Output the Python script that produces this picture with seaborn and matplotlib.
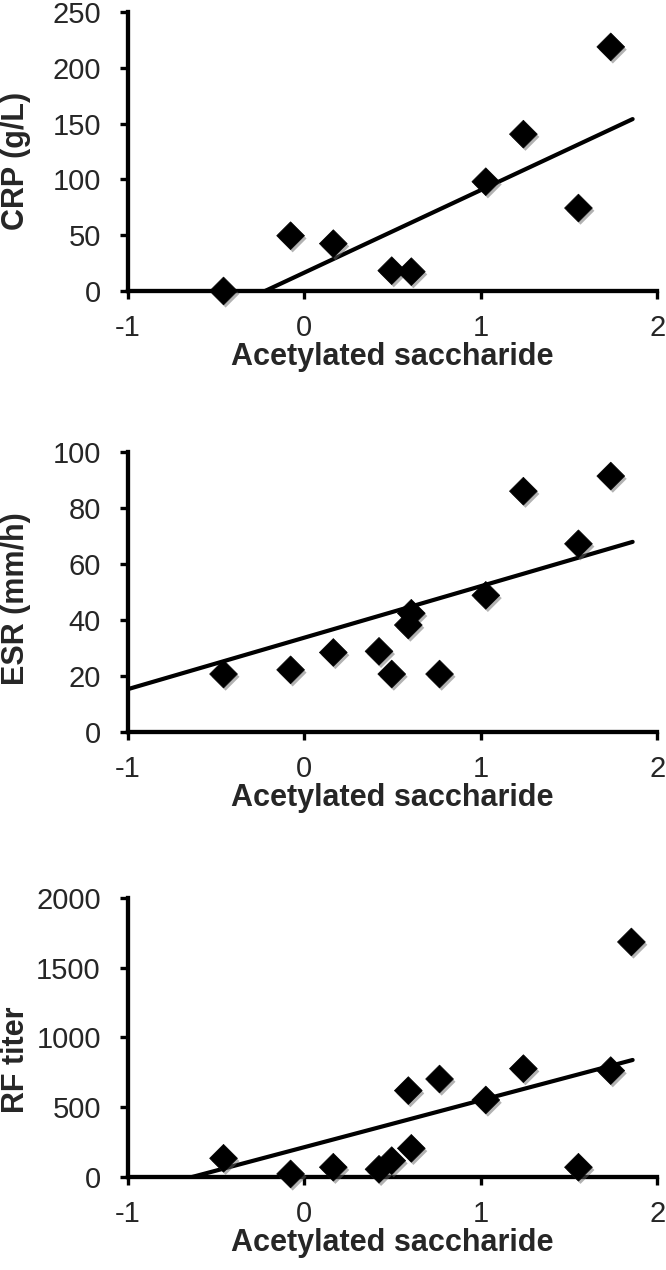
import seaborn as sns
import matplotlib.pyplot as plt
import matplotlib.patheffects as pe
import numpy as np
import pandas as pd

# Values
acetyl = [-0.458, -0.078, 0.164, 0.423, 0.495, 0.589, 0.606, 0.766, 1.028, 1.241, 1.553, 1.736, 1.853]
crp = [0, 49.5, 42.4, np.nan, 18.2, np.nan, 17.3, np.nan, 97.9, 140.5, 74.3, 218.7, np.nan]
esr = [20.8, 22.3, 28.5, 28.9, 20.8, 38.3, 42.5, 20.8, 48.9, 86.1, 67.3, 91.5, np.nan]
rf = [136, 24, 72, 57, 119, 620, 207, 703, 553, 777, 72, 763, 1683]

# Trend lines as drawn in the figure (y at the two x ends)
trend_x = [-1, 1.86]
crp_trend = [-57.5, 154]
esr_trend = [15.4, 68.0]
rf_trend = [-119.8, 839]

x_ticks = [-1, 0, 1, 2]
crp_ticks = [0, 50, 100, 150, 200, 250]
esr_ticks = [0, 20, 40, 60, 80, 100]
rf_ticks = [0, 500, 1000, 1500, 2000]

data = pd.DataFrame({'Acetylated saccharide': acetyl, 'CRP': crp, 'ESR': esr, 'RF': rf})

sns.set_style('ticks')
plt.rcParams['font.family'] = ['Liberation Sans', 'DejaVu Sans']
plt.rcParams['axes.unicode_minus'] = False

fig = plt.figure(figsize=(6.66, 12.7), dpi=100)

# column, y label, trend, y ticks, axes rect, y-label height (axes fraction)
panels = [
    ('CRP', 'CRP (g/L)', crp_trend, crp_ticks, [0.192, 0.7709, 0.795, 0.2197], 0.466),
    ('ESR', 'ESR (mm/h)', esr_trend, esr_ticks, [0.192, 0.4234, 0.795, 0.2205], 0.479),
    ('RF', 'RF titer', rf_trend, rf_ticks, [0.192, 0.0730, 0.795, 0.2202], 0.42),
]

shadow = [pe.SimplePatchShadow(offset=(1.5, -2), shadow_rgbFace='0.4', alpha=0.5), pe.Normal()]

for col, ylabel, trend, yticks, rect, ylab_y in panels:
    ax = fig.add_axes(rect)
    sns.lineplot(x=trend_x, y=trend, ax=ax, color='black', linewidth=3)
    sns.scatterplot(data=data, x='Acetylated saccharide', y=col, ax=ax, marker='D',
                    s=200, color='black', edgecolor='black', linewidth=0.5,
                    clip_on=False, zorder=3, path_effects=shadow)
    ax.set_xlim(x_ticks[0], x_ticks[-1])
    ax.set_ylim(yticks[0], yticks[-1])
    ax.set_xticks(x_ticks)
    ax.set_yticks(yticks)
    ax.set_xlabel('Acetylated saccharide', fontsize=22, fontweight='bold', labelpad=0)
    ax.set_ylabel(ylabel, fontsize=22, fontweight='bold')
    ax.yaxis.set_label_coords(-0.183, ylab_y)
    ax.tick_params(axis='both', labelsize=21, length=5.5, width=2.4, direction='out',
                   color='black')
    ax.tick_params(axis='y', pad=14)
    ax.tick_params(axis='x', pad=11)
    sns.despine(ax=ax)
    for side in ['left', 'bottom']:
        ax.spines[side].set_linewidth(3.1)
        ax.spines[side].set_color('black')
        ax.spines[side].set_zorder(2.5)

fig.savefig('out.png', dpi=100)
